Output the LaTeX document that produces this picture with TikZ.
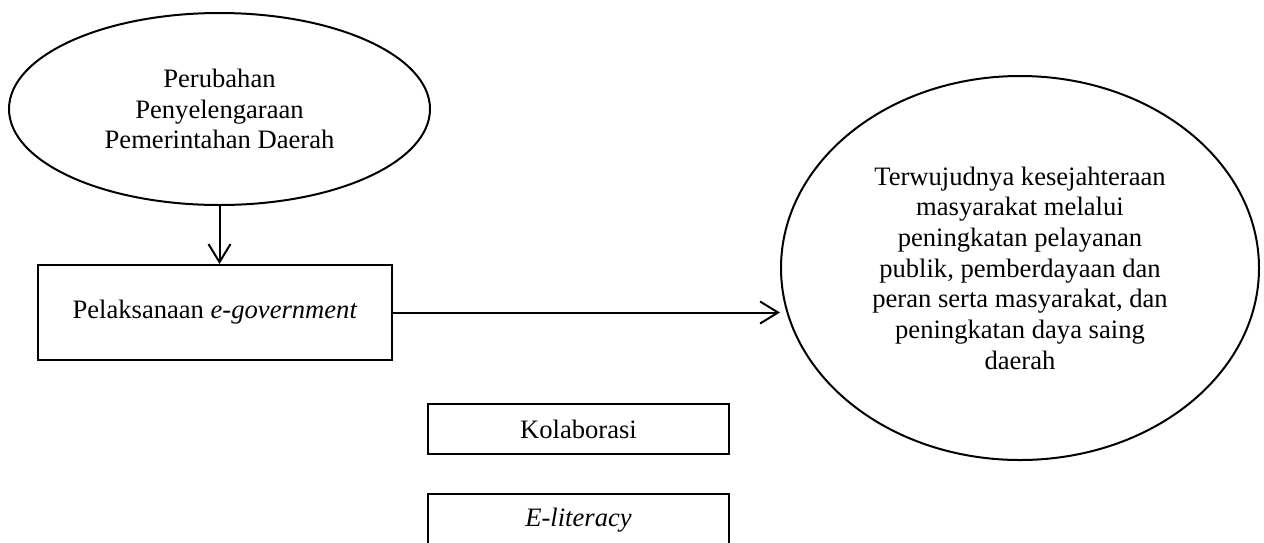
\documentclass[tikz,border=0pt]{standalone}
\usepackage{fontspec}
\setmainfont{Liberation Serif}
\usetikzlibrary{shapes.geometric,arrows.meta}
\begin{document}
\begin{tikzpicture}[x=1pt,y=-1pt,
  every node/.style={font=\fontsize{26.6}{30.7}\selectfont, align=center, inner sep=0pt},
  ell/.style={draw, ellipse, line width=2pt},
  bx/.style={draw, rectangle, line width=2pt},
  conn/.style={line width=2pt, -{Straight Barb[length=18pt,width=22pt,line width=2pt]}}]
\useasboundingbox (0,0) rectangle (1264,542);
\node[ell, minimum width=421pt, minimum height=192pt] (top) at (219.5,109)
  {Perubahan\\Penyelengaraan\\Pemerintahan Daerah};
\node[bx, minimum width=354pt, minimum height=95pt] (pel) at (215,312.5)
  {Pelaksanaan \textit{e-government}};
\node[ell, minimum width=478pt, minimum height=384pt] (goal) at (1020,268)
  {Terwujudnya kesejahteraan\\masyarakat melalui\\peningkatan pelayanan\\publik, pemberdayaan dan\\peran serta masyarakat, dan\\peningkatan daya saing\\daerah};
\node[bx, minimum width=301pt, minimum height=50pt] (kol) at (578.5,429) {Kolaborasi};
\node[bx, minimum width=301pt, minimum height=52pt] (eli) at (578.5,520) {\textit{E-literacy}};
\draw[conn] (top.south) -- (top.south |- pel.north);
\draw[conn] (pel.east) -- (pel.east -| goal.west);
\end{tikzpicture}
\end{document}
